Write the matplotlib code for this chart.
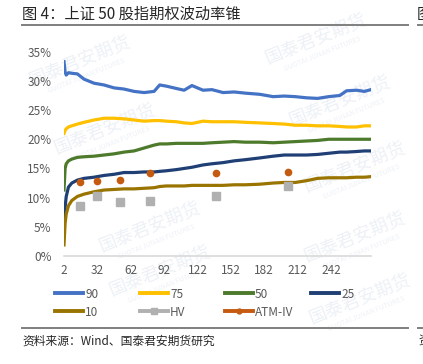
import matplotlib
matplotlib.use("Agg")
import matplotlib.pyplot as plt
from matplotlib.lines import Line2D
from matplotlib.ticker import FuncFormatter

plt.rcParams['font.family'] = ['Noto Sans CJK SC', 'DejaVu Sans']

# trading days to expiry (category axis)
days = [2, 3, 4, 6, 9, 14, 20, 29, 38, 47, 56, 65, 74, 83, 88, 94, 103, 110, 117,
        127, 135, 145, 155, 165, 178, 190, 200, 210, 220, 230, 240, 250, 256, 265, 272, 278]

# volatility cone percentiles (%)
p90 = [33.3, 31.5, 31.0, 31.4, 31.3, 31.2, 30.3, 29.6, 29.3, 28.8, 28.6, 28.2, 28.0, 28.2, 29.3,
       29.1, 28.7, 28.4, 29.2, 28.4, 28.5, 28.0, 28.1, 27.9, 27.7, 27.3, 27.4, 27.3, 27.1, 27.0,
       27.3, 27.5, 28.3, 28.4, 28.2, 28.5]
p75 = [21.0, 21.5, 21.8, 22.1, 22.3, 22.6, 22.9, 23.3, 23.6, 23.6, 23.5, 23.3, 23.1, 23.2, 23.2,
       23.1, 23.0, 22.8, 22.7, 23.1, 23.0, 23.0, 23.0, 22.9, 22.8, 22.7, 22.6, 22.4, 22.4, 22.3,
       22.3, 22.2, 22.1, 22.1, 22.3, 22.3]
p50 = [11.3, 15.0, 15.8, 16.3, 16.6, 16.9, 17.0, 17.1, 17.3, 17.5, 17.8, 18.0, 18.5, 19.0, 19.2,
       19.2, 19.3, 19.3, 19.3, 19.3, 19.4, 19.5, 19.6, 19.5, 19.5, 19.4, 19.5, 19.6, 19.7, 19.8,
       20.0, 20.0, 20.0, 20.0, 20.0, 20.0]
p25 = [5.0, 8.4, 10.2, 11.8, 12.5, 13.0, 13.3, 13.5, 13.8, 14.0, 14.3, 14.3, 14.4, 14.4, 14.5,
       14.6, 14.8, 15.0, 15.2, 15.6, 15.8, 16.0, 16.3, 16.5, 16.8, 17.1, 17.3, 17.3, 17.3, 17.4,
       17.6, 17.8, 17.8, 17.9, 18.0, 18.0]
p10 = [1.9, 5.6, 7.2, 8.6, 9.5, 10.2, 10.6, 11.0, 11.3, 11.4, 11.5, 11.5, 11.6, 11.7, 11.9,
       12.0, 12.0, 12.0, 12.1, 12.1, 12.1, 12.1, 12.2, 12.2, 12.3, 12.5, 12.6, 12.6, 12.9, 13.3,
       13.4, 13.4, 13.4, 13.5, 13.5, 13.6]

# current contracts
opt_days = [16, 32, 52, 79, 139, 203]
hv = [8.6, 10.3, 9.3, 9.5, 10.3, 12.0]
atm_iv = [12.6, 12.9, 13.1, 14.3, 14.3, 14.4]

xticks = [2, 32, 62, 92, 122, 152, 182, 212, 242]

C90, C75, C50, C25, C10 = '#4472C4', '#FFC000', '#4E7A2C', '#203F74', '#9A7400'
CHV, CIV = '#B0B0B0', '#C55A11'
TXT = '#595959'
WM = '#EDF1F6'


def pct(x, pos):
    return f'{x:.0f}%'


fig = plt.figure(figsize=(4.23, 3.64), dpi=100)

# faint company watermarks behind everything
for cx, cy in [(80, 62), (105, 130), (316, 40), (340, 102), (355, 168),
               (150, 228), (160, 272), (355, 238), (360, 300)]:
    fig.text(cx / 423, 1 - cy / 364, '国泰君安期货', fontsize=13, color=WM,
             rotation=22, ha='center', va='center', rotation_mode='anchor', zorder=0)
    fig.text((cx + 6) / 423, 1 - (cy + 14) / 364, 'GUOTAI JUNAN FUTURES', fontsize=5,
             color=WM, rotation=22, ha='center', va='center', rotation_mode='anchor', zorder=0)

ax = fig.add_axes([64 / 423, 1 - 256 / 364, 307 / 423, 204.3 / 364])
ax.set_zorder(2)

lw = 2.3
ax.plot(days, p90, color=C90, lw=lw)
ax.plot(days, p75, color=C75, lw=lw)
ax.plot(days, p50, color=C50, lw=lw)
ax.plot(days, p25, color=C25, lw=lw)
ax.plot(days, p10, color=C10, lw=lw)
ax.plot(opt_days, hv, ls='none', marker='s', ms=6, color=CHV)
ax.plot(opt_days, atm_iv, ls='none', marker='o', ms=4.5, color=CIV)

ax.set_xlim(2, 278)
ax.set_ylim(0, 35)
ax.set_xticks(xticks)
ax.set_yticks(range(0, 36, 5))
ax.yaxis.set_major_formatter(FuncFormatter(pct))
ax.tick_params(axis='both', length=0, labelsize=8.5, labelcolor=TXT)
ax.tick_params(axis='y', pad=9)
ax.tick_params(axis='x', pad=6)
for s in ['top', 'right', 'left']:
    ax.spines[s].set_visible(False)
ax.spines['bottom'].set_color('#D9D9D9')
ax.spines['bottom'].set_linewidth(1.2)
ax.patch.set_alpha(0)

# legend, one entry at a time to keep Excel-like even spacing
entries = [
    ('90', Line2D([], [], color=C90, lw=2.8), 55, 294),
    ('75', Line2D([], [], color=C75, lw=2.8), 140, 294),
    ('50', Line2D([], [], color=C50, lw=2.8), 225, 294),
    ('25', Line2D([], [], color=C25, lw=2.8), 311, 294),
    ('10', Line2D([], [], color=C10, lw=2.8), 55, 312),
    ('HV', Line2D([], [], color=CHV, lw=2.8, marker='s', ms=4), 140, 312),
    ('ATM-IV', Line2D([], [], color=CIV, lw=2.8, marker='o', ms=3.5), 225, 312),
]
for lab, h, x, y in entries:
    leg = fig.legend(handles=[h], labels=[lab], loc='center left',
                     bbox_to_anchor=(x / 423, 1 - y / 364), frameon=False,
                     fontsize=8.5, labelcolor=TXT, handlelength=2.4,
                     handletextpad=0.15, borderpad=0, borderaxespad=0)
    leg.set_zorder(3)

# title, rules, source
fig.text(22 / 423, 1 - 14 / 364, '图 4：上证 50 股指期权波动率锥', fontsize=11,
         color='#262626', va='center', ha='left', zorder=3)
fig.text(417 / 423, 1 - 14 / 364, '图', fontsize=11, color='#262626', va='center', ha='left')
fig.add_artist(Line2D([22 / 423, 408 / 423], [1 - 25 / 364] * 2, color='#7F7F7F', lw=1.4))
fig.add_artist(Line2D([418 / 423, 1], [1 - 25 / 364] * 2, color='#7F7F7F', lw=1.4))
fig.add_artist(Line2D([22 / 423, 408 / 423], [1 - 328 / 364] * 2, color='#7F7F7F', lw=1.4))
fig.add_artist(Line2D([418 / 423, 1], [1 - 328 / 364] * 2, color='#7F7F7F', lw=1.4))
fig.text(22 / 423, 1 - 341 / 364, '资料来源：Wind、国泰君安期货研究', fontsize=8.5,
         color='#262626', va='center', ha='left', zorder=3)
fig.text(418 / 423, 1 - 341 / 364, '资', fontsize=8.5, color='#262626', va='center', ha='left')

fig.savefig('out.png', dpi=100)
